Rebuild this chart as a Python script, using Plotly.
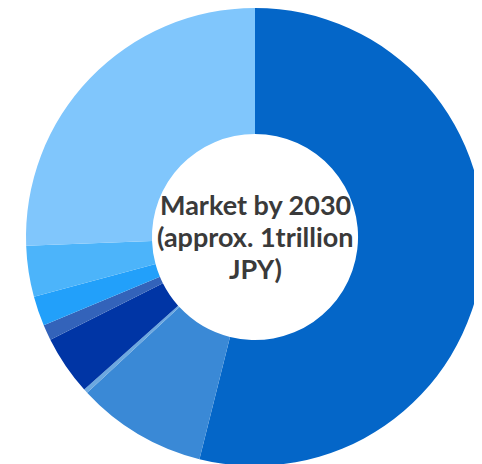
import plotly.graph_objects as go

labels = ["Segment A", "Segment B", "Segment C", "Segment D", "Segment E", "Segment F", "Segment G", "Segment H"]
values = [53.9, 9.2, 0.3, 4.2, 1.1, 2.1, 3.6, 25.6]
colors = ["#0466C8", "#3A89D6", "#6CA8E0", "#0035A5", "#3363BA", "#22A0FA", "#4CB4FA", "#80C6FC"]
center_lines = ["Market by 2030", "(approx. 1trillion", "JPY)"]

fig = go.Figure(go.Pie(
    labels=labels, values=values, hole=0.45, sort=False, direction="clockwise",
    rotation=0, textinfo="none", hoverinfo="label+percent",
    marker=dict(colors=colors, line=dict(width=0)),
    showlegend=False,
))
for i, line in enumerate(center_lines):
    fig.add_annotation(
        text="<b>" + line + "</b>", x=0.5, y=0.5, xref="paper", yref="paper",
        showarrow=False, yshift=32 * (1 - i) + 1,
        font=dict(family="Lato", size=27, color="#3a3a3a"),
    )
fig.update_layout(
    width=482, height=464,
    margin=dict(l=18, r=6, t=0, b=6),
    paper_bgcolor="white", plot_bgcolor="white",
)
fig.write_html("out.html")
